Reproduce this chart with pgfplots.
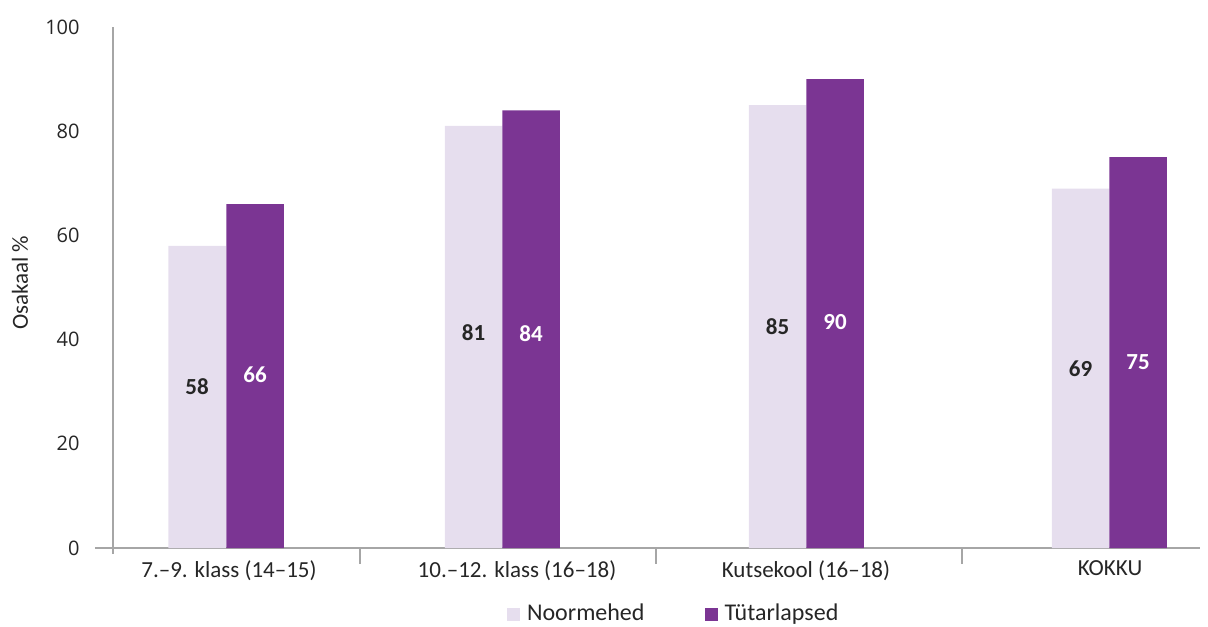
\documentclass[border=0pt]{standalone}
\usepackage{pgfplots}
\pgfplotsset{compat=1.18}
\usepackage{fontspec}
\setmainfont{Carlito}
\newfontfamily\tickfont{Open Sans}
\usetikzlibrary{calc}
\definecolor{lightbar}{HTML}{E6DEEE}
\definecolor{darkbar}{HTML}{7B3593}
\definecolor{axisgray}{HTML}{A6A6A6}
\definecolor{txt}{HTML}{262626}
\begin{document}
\fontsize{11.5pt}{13.8pt}\selectfont
\begin{tikzpicture}
\begin{axis}[
  name=ax,
  scale only axis,
  width=552.5pt, height=260.5pt,
  xmin=0.95, xmax=12.0,
  ymin=0, ymax=100,
  axis lines*=left,
  x axis line style={draw=axisgray, line width=0.7pt},
  y axis line style={draw=none},
  ytick={0,20,40,60,80,100},
  xtick={2.29,5.17,8.06,11.10},
  xticklabels={7.–9. klass (14–15), 10.–12. klass (16–18), Kutsekool (16–18), KOKKU},
  minor xtick={3.60,6.56,9.62},
  major tick length=0pt,
  minor tick length=8pt,
  tick align=outside,
  minor x tick style={draw=axisgray, line width=0.7pt},
  ytick style={draw=none},
  extra x ticks={1.13},
  extra x tick labels={},
  extra x tick style={grid=major, major grid style={draw=axisgray, line width=0.7pt}, major tick length=3pt, major x tick style={draw=axisgray, line width=0.7pt}},
  /pgf/number format/assume math mode=true,
  yticklabel style={font=\tickfont\fontsize{10pt}{12pt}\selectfont, text=txt, anchor=east, inner sep=0pt, xshift=-7.5pt},
  xticklabel style={font=\fontsize{11.5pt}{13.8pt}\selectfont, text=txt, anchor=north, inner sep=0pt, yshift=-6pt},
  ylabel={Osakaal \%},
  ylabel style={at={(axis description cs:-0.0679,0.509)}, anchor=center, font=\fontsize{11.5pt}{13.8pt}\selectfont, text=txt},
  legend style={at={(0.526,-0.127)}, anchor=center, draw=none, fill=none, legend columns=2,
    font=\fontsize{12pt}{14pt}\selectfont, text=txt,
    /tikz/every even column/.append style={column sep=26.5pt},
    nodes={inner sep=3.5pt}},
]
\addplot[ybar, bar width=0.575, bar shift=0, fill=lightbar, draw=none,
  legend image code/.code={\fill[lightbar] (0pt,-3.25pt) rectangle (6.5pt,3.25pt);}]
  coordinates {(1.97,58) (4.735,81) (7.775,85) (10.805,69)};
\addlegendentry{Noormehed}
\addplot[ybar, bar width=0.575, bar shift=0, fill=darkbar, draw=none,
  legend image code/.code={\fill[darkbar] (0pt,-3.25pt) rectangle (6.5pt,3.25pt);}]
  coordinates {(2.55,66) (5.31,84) (8.35,90) (11.38,75)};
\addlegendentry{Tütarlapsed}
\addplot[draw=none, mark=none, forget plot, nodes near coords, point meta=explicit symbolic,
  nodes near coords style={anchor=center, font=\bfseries\fontsize{11.5pt}{13.8pt}\selectfont, text=txt}]
  coordinates {(1.97,30.9)[58] (4.735,41.3)[81] (7.775,42.4)[85] (10.805,34.5)[69]};
\addplot[draw=none, mark=none, forget plot, nodes near coords, point meta=explicit symbolic,
  nodes near coords style={anchor=center, font=\bfseries\fontsize{11.5pt}{13.8pt}\selectfont, text=white}]
  coordinates {(2.55,33.2)[66] (5.31,41.1)[84] (8.35,43.4)[90] (11.38,35.7)[75]};
\end{axis}
\pgfresetboundingbox
\path[use as bounding box] ($(ax.south west)+(-47.5pt,-39pt)$) rectangle ($(ax.north east)+(4pt,13.5pt)$);
\end{tikzpicture}
\end{document}
